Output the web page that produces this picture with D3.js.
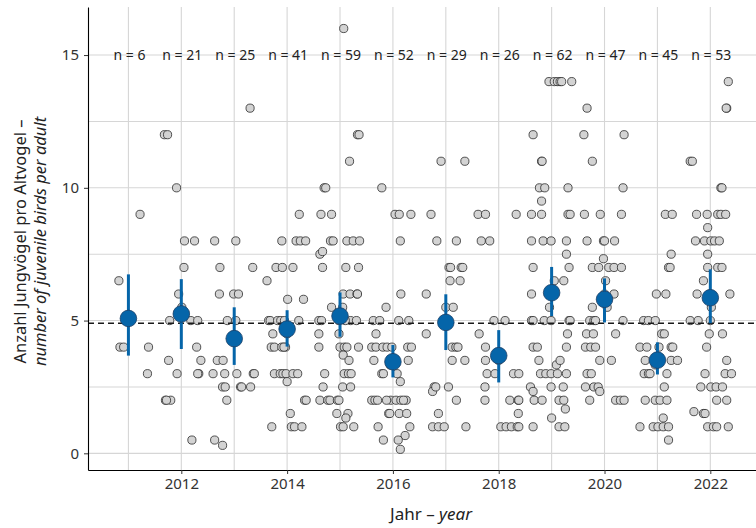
<!DOCTYPE html>
<html>
<head>
<meta charset="utf-8">
<script src="https://cdn.jsdelivr.net/npm/d3@7"></script>
<style>
  html, body { margin: 0; padding: 0; background: #fff; }
  svg { display: block; font-family: "Noto Sans", "Open Sans", sans-serif; }
</style>
</head>
<body>
<svg id="chart" width="756" height="528"></svg>
<script>
// Breeding years, sample sizes and yearly estimates (mean with interval)
const years = [2011, 2012, 2013, 2014, 2015, 2016, 2017, 2018, 2019, 2020, 2021, 2022];
const sampleSizes = [6, 21, 25, 41, 59, 52, 29, 26, 62, 47, 45, 53];
const means  = [5.08, 5.25, 4.32, 4.68, 5.17, 3.45, 4.93, 3.68, 6.05, 5.80, 3.51, 5.86];
const ciLow  = [3.68, 3.93, 3.33, 4.02, 4.39, 2.86, 3.89, 2.67, 5.17, 4.93, 2.97, 4.90];
const ciHigh = [6.74, 6.56, 5.50, 5.39, 6.06, 4.08, 5.99, 4.64, 7.02, 6.59, 4.18, 6.93];
const overallMean = 4.9;
const xTickYears = [2012, 2014, 2016, 2018, 2020, 2022];
const yTicks = [0, 5, 10, 15];

// Individual pairs: [horizontal jitter in years, juveniles per adult]
const obs2011 = [[-0.18,6.5],[-0.16,4],[-0.09,4],[0.38,4],[0.36,3],[0.22,9]];
const obs2012 = [[-0.32,12],[-0.26,12],[-0.09,10],[0.06,8],[0.25,8],[0.05,7],[-0.05,6],[0.01,5.5],
  [-0.22,5],[0.18,5],[0.31,5],[0.29,4],[0.37,3.5],[0.33,3],[0.31,3],[-0.24,3.5],[-0.08,3],
  [-0.30,2],[-0.20,2],[0.20,0.5],[-0.28,2]];
const obs2013 = [[0.30,13],[-0.37,8],[0.03,8],[-0.27,7],[0.35,7],[-0.28,6],[-0.01,6],[0.08,6],
  [-0.13,5],[0.03,5],[-0.32,3.5],[-0.21,3.5],[-0.40,3],[-0.18,3],[0.05,3],[0.36,3],[0.38,3],
  [-0.22,2.5],[-0.17,2.5],[0.12,2.5],[0.14,2.5],[0.31,2.5],[-0.14,2],[-0.37,0.5],[-0.22,0.3]];
const obs2014 = [[0.23,9],[-0.10,8],[0.17,8],[0.25,8],[0.35,8],[-0.21,7],[-0.09,7],[0.11,7],
  [-0.38,6.5],[0.01,5.8],[0.31,5.8],[-0.35,5],[-0.32,5],[-0.18,5],[-0.12,5],[0.22,5],[-0.27,4.5],
  [-0.30,4],[-0.24,4],[-0.10,4],[-0.03,4],[-0.06,4],[-0.24,3],[-0.13,3],[-0.08,3],[-0.02,3],
  [0.11,3],[0.20,3],[0.0,2.7],[0.33,2],[0.36,2],[0.06,1.5],[-0.29,1],[0.08,1],[0.14,1],[0.28,1],
  [0.0,4.5],[-0.05,5]];
const obs2015 = [[0.07,16],[0.33,12],[0.36,12],[0.18,11],[-0.30,10],[-0.27,10],[-0.36,9],[-0.16,9],
  [-0.18,8],[-0.13,8],[0.13,8],[0.25,8],[0.37,8],[-0.38,7.5],[-0.33,7.6],[-0.33,7],[0.11,7],[0.35,7],
  [0.06,6],[0.19,6],[0.32,6],[0.33,6],[-0.16,5.5],[-0.40,5],[-0.35,5],[0.20,5],[0.31,5],
  [-0.40,4.5],[-0.02,4.5],[-0.40,4],[0.0,4],[0.08,4],[0.13,4],[0.35,4],[0.06,3.7],[0.17,3.5],
  [-0.29,3],[0.08,3],[0.16,3],[0.21,3],[-0.32,2.5],[0.05,2.5],[0.20,2.5],[-0.38,2],[-0.23,2],
  [-0.19,2],[-0.05,2],[-0.02,2],[-0.06,1.5],[0.15,1.5],[0.11,1.33],[0.01,1],[0.06,1],[0.26,1],
  [-0.02,5],[0.05,5.5],[0.10,5]];
const obs2016 = [[-0.21,10],[0.04,9],[0.12,9],[0.34,9],[0.14,8],[0.15,6],[-0.13,5.5],[-0.37,5],
  [-0.25,5],[0.11,5],[0.30,5],[-0.32,4.5],[-0.40,4],[-0.32,4],[-0.19,4],[-0.11,4],[-0.02,4],
  [0.28,4],[0.35,4],[-0.36,3.5],[0.29,3.5],[-0.21,3],[-0.18,3],[0.14,2.7],[-0.40,2],[-0.34,2],
  [-0.29,2],[-0.04,2],[0.06,2],[0.15,2],[0.25,2],[-0.08,1.5],[-0.06,1.5],[0.12,1.5],[0.26,1.5],
  [-0.28,1],[0.32,1],[0.23,0.67],[-0.18,0.5],[0.10,0.5],[0.14,0.15],
  [0.0,3.5],[-0.05,3.33],[0.08,3],[-0.12,2],[0.20,2]];
const obs2017 = [[-0.09,11],[0.36,11],[-0.28,9],[-0.17,8],[0.20,8],[0.06,7],[0.09,7],[0.29,7],
  [0.32,7],[0.08,6.5],[0.27,6.5],[-0.37,6],[0.0,5.5],[0.14,5.5],[-0.37,4.5],[0.12,4],[0.19,4],
  [0.23,4],[0.12,3.5],[0.36,3.5],[-0.22,2.5],[-0.25,2.33],[-0.19,2.5],[0.05,2.5],[0.20,2],
  [-0.14,1.5],[-0.25,1],[-0.14,1],[-0.03,1],[0.38,1]];
const obs2018 = [[-0.39,9],[-0.25,9],[0.33,9],[-0.33,8],[-0.17,8],[-0.09,5],[0.12,5],[-0.37,4.5],
  [-0.25,4],[-0.25,3.5],[-0.22,3],[-0.07,3],[0.28,3],[0.38,3],[-0.26,2.5],[-0.26,2],[0.21,2],
  [0.37,2],[0.38,2],[0.37,1.5],[0.04,1],[0.14,1],[0.24,1],[0.35,1],[0.38,1],[0.0,3.5]];
const obs2019 = [[-0.05,14],[0.05,14],[0.11,14],[0.16,14],[0.19,14],[0.38,14],[-0.35,12],
  [-0.19,11],[-0.18,11],[-0.23,10],[-0.13,10],[0.31,10],[-0.19,9.5],[-0.38,9],[-0.19,9],[0.31,9],
  [0.35,9],[-0.38,8],[-0.16,8],[-0.01,8],[0.28,8],[0.28,7.5],[-0.35,7],[0.33,7],[0.23,6.5],
  [-0.38,6],[-0.38,5],[-0.35,5],[-0.14,5],[-0.01,5],[0.33,5],[0.35,5],[0.30,4.5],[-0.35,4],
  [-0.27,4],[0.28,4],[-0.24,3.5],[0.09,3.33],[0.16,3.5],[-0.21,3],[-0.11,3],[-0.01,3],[0.11,3],
  [0.28,3],[-0.40,2.5],[-0.35,2.33],[-0.01,2.5],[0.22,2.5],[-0.33,2],[-0.18,2],[0.14,2],[0.23,2],
  [0.26,1.67],[0.0,1.33],[-0.35,1],[0.14,1],[0.25,1],[0.02,6],[-0.04,5.5],[0.05,6.5]];
const obs2020 = [[-0.33,13],[-0.39,12],[0.37,12],[-0.23,11],[0.35,10],[-0.38,9],[-0.08,9],[0.32,9],
  [-0.33,8],[-0.02,8],[0.0,8],[0.19,8],[-0.02,7.33],[-0.23,7],[-0.11,7],[0.08,7],[0.18,7],[0.32,7],
  [0.02,6.5],[0.18,6],[-0.23,5.5],[-0.28,5],[-0.20,5],[-0.17,5],[0.35,5],[-0.34,4.5],[-0.21,4.5],
  [0.21,4.5],[-0.36,4],[-0.26,4],[-0.17,4],[-0.09,3.5],[0.13,3.5],[-0.33,3],[-0.25,3],[-0.36,2.5],
  [-0.20,2.5],[-0.12,2.5],[-0.09,2.33],[-0.28,2],[0.21,2],[0.30,2],[0.37,2],[0.0,6],[0.05,5.5]];
const obs2021 = [[0.15,9],[0.28,9],[0.26,7.5],[0.21,7],[0.24,7],[-0.02,6],[0.16,6],[-0.26,5],
  [-0.17,5],[-0.04,5],[0.08,4.5],[0.13,4.5],[-0.33,4],[-0.20,4],[0.26,4],[0.29,4],[-0.23,3.5],
  [0.26,3.5],[0.38,3.5],[-0.25,3],[-0.17,3],[-0.14,3],[0.18,3],[0.13,2.5],[-0.23,2],[-0.04,2],
  [0.05,2],[0.18,2],[0.11,1.33],[-0.33,1],[-0.08,1],[0.01,1],[0.11,1],[0.21,1],[0.21,0.5],
  [0.0,3.5],[-0.04,3.33],[0.03,4]];
const obs2022 = [[0.34,14],[0.31,13],[0.30,13],[-0.38,11],[-0.34,11],[0.20,10],[0.22,10],[-0.26,9],
  [-0.06,9],[0.14,9],[0.20,9],[0.29,9],[-0.05,8.5],[-0.28,8],[-0.11,8],[0.01,8],[0.08,8],[0.17,8],
  [-0.05,7.5],[-0.05,7],[0.14,7],[0.22,7],[-0.13,6.5],[-0.25,6],[0.37,6],[-0.38,5],[-0.23,5],
  [0.0,5],[-0.02,4.5],[0.23,4.5],[-0.07,4],[0.31,3.5],[-0.10,3],[0.28,3],[0.40,3],[-0.18,2.5],
  [0.01,2.5],[0.11,2.5],[0.23,2.5],[0.12,2],[0.31,2],[-0.31,1.57],[-0.13,1.5],[-0.10,1.5],
  [-0.05,1],[0.06,1],[0.12,1],[0.34,1],[0.0,6],[0.02,5.5]];
const observations = [obs2011, obs2012, obs2013, obs2014, obs2015, obs2016,
                      obs2017, obs2018, obs2019, obs2020, obs2021, obs2022];

const svg = d3.select("#chart");
const panel = { left: 88, right: 762, top: 7, bottom: 470 };

const x = d3.scaleLinear().domain([2010.236, 2022.977]).range([panel.left, panel.right]);
const y = d3.scaleLinear().domain([-0.628, 16.81]).range([panel.bottom, panel.top]);

const gridColor = "#d6d6d6";
const grid = svg.append("g");
// vertical grid at every year, horizontal at every 2.5
grid.selectAll("line.vx").data(years).join("line")
  .attr("x1", d => x(d)).attr("x2", d => x(d))
  .attr("y1", panel.top).attr("y2", panel.bottom)
  .attr("stroke", gridColor).attr("stroke-width", 1.1);
grid.selectAll("line.hy").data([0, 2.5, 5, 7.5, 10, 12.5, 15]).join("line")
  .attr("x1", panel.left).attr("x2", panel.right)
  .attr("y1", d => y(d)).attr("y2", d => y(d))
  .attr("stroke", gridColor).attr("stroke-width", 1.1);

// individual observations
const pts = observations.flatMap((arr, i) => arr.map(p => ({ yr: years[i] + p[0], v: p[1] })));
svg.append("g").selectAll("circle").data(pts).join("circle")
  .attr("cx", d => x(d.yr)).attr("cy", d => y(d.v)).attr("r", 4.1)
  .attr("fill", "#d3d3d3").attr("stroke", "#2b2b2b").attr("stroke-width", 0.8);

// overall mean
svg.append("line")
  .attr("x1", panel.left).attr("x2", panel.right)
  .attr("y1", y(overallMean)).attr("y2", y(overallMean))
  .attr("stroke", "#1a1a1a").attr("stroke-width", 1.6).attr("stroke-dasharray", "6,4");

// yearly estimates
const blue = "#0565a9";
svg.append("g").selectAll("line").data(years).join("line")
  .attr("x1", d => x(d)).attr("x2", d => x(d))
  .attr("y1", (d, i) => y(ciLow[i])).attr("y2", (d, i) => y(ciHigh[i]))
  .attr("stroke", blue).attr("stroke-width", 3);
svg.append("g").selectAll("circle").data(years).join("circle")
  .attr("cx", d => x(d)).attr("cy", (d, i) => y(means[i])).attr("r", 8.3)
  .attr("fill", blue).attr("stroke", "#1c3f66").attr("stroke-width", 0.8);

// sample size labels
svg.append("g").selectAll("text").data(years).join("text")
  .attr("x", d => x(d) + 1).attr("y", y(15)).attr("dy", "0.35em")
  .attr("text-anchor", "middle").attr("font-size", 14).attr("fill", "#222")
  .text((d, i) => "n = " + sampleSizes[i]);

// axes
const xAxis = d3.axisBottom(x).tickValues(xTickYears).tickFormat(d3.format("d"))
  .tickSize(4).tickSizeOuter(0).tickPadding(4);
const gx = svg.append("g").attr("transform", `translate(0,${panel.bottom})`).call(xAxis);
gx.select(".domain").attr("stroke", "#000").attr("stroke-width", 1.1);
gx.selectAll(".tick line").attr("stroke", "#333");
gx.selectAll(".tick text").attr("font-size", 15).attr("fill", "#333")
  .attr("font-family", "Noto Sans, sans-serif");

const yAxis = d3.axisLeft(y).tickValues(yTicks).tickSize(4).tickSizeOuter(0).tickPadding(5);
const gy = svg.append("g").attr("transform", `translate(${panel.left},0)`).call(yAxis);
gy.select(".domain").attr("stroke", "#000").attr("stroke-width", 1.1);
gy.selectAll(".tick line").attr("stroke", "#333");
gy.selectAll(".tick text").attr("font-size", 15).attr("fill", "#333")
  .attr("font-family", "Noto Sans, sans-serif");

// axis titles
const xt = svg.append("text").attr("x", 431).attr("y", 520)
  .attr("text-anchor", "middle").attr("font-size", 17).attr("fill", "#222");
xt.append("tspan").text("Jahr – ");
xt.append("tspan").attr("font-style", "italic").text("year");

const cy = (panel.top + panel.bottom) / 2 + 3;
svg.append("text").attr("transform", `translate(26,${cy}) rotate(-90)`)
  .attr("text-anchor", "middle").attr("font-size", 16.5).attr("fill", "#222")
  .text("Anzahl Jungvögel pro Altvogel –");
svg.append("text").attr("transform", `translate(46,${cy}) rotate(-90)`)
  .attr("text-anchor", "middle").attr("font-size", 16.5).attr("fill", "#222")
  .attr("font-style", "italic")
  .text("number of juvenile birds per adult");
</script>
</body>
</html>
